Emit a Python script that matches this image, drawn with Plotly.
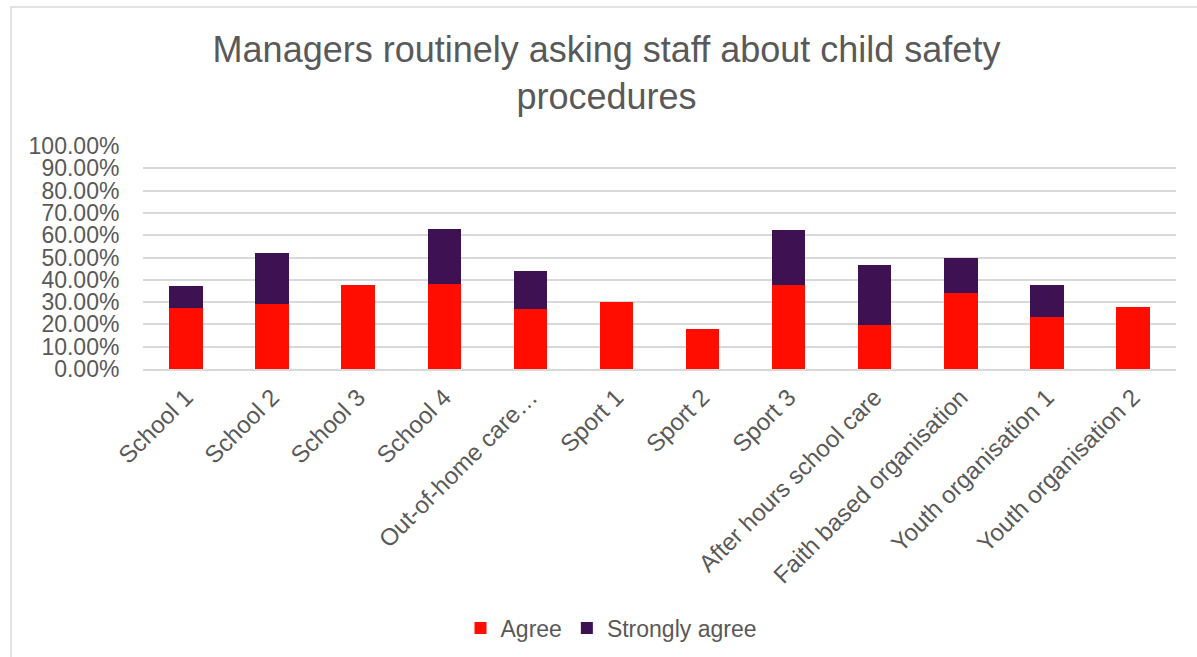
import plotly.graph_objects as go

categories = ["School 1", "School 2", "School 3", "School 4", "Out-of-home care…",
              "Sport 1", "Sport 2", "Sport 3", "After hours school care",
              "Faith based organisation", "Youth organisation 1", "Youth organisation 2"]
agree = [0.273, 0.291, 0.375, 0.381, 0.270, 0.300, 0.181, 0.375, 0.198, 0.340, 0.231, 0.276]
strongly_agree = [0.099, 0.228, 0.0, 0.249, 0.168, 0.0, 0.0, 0.249, 0.268, 0.159, 0.144, 0.0]
y_ticks = [i / 10 for i in range(11)]

TEXT = "#595959"
FONT = "Liberation Sans, Arial, sans-serif"

W, H = 1197, 657
L, R, T, B = 143, 21, 146, 288
pw, ph = W - L - R, H - T - B

def px(x):
    return (x - L) / pw

def py(y):
    return (H - B - y) / ph

fig = go.Figure()
fig.add_trace(go.Bar(x=categories, y=agree, name="Agree", marker=dict(color="#FF0D00", line=dict(width=0))))
fig.add_trace(go.Bar(x=categories, y=strongly_agree, name="Strongly agree",
                     marker=dict(color="#3D1152", line=dict(width=0))))

fig.update_layout(
    width=W, height=H,
    barmode="stack", bargap=0.61,
    margin=dict(l=L, r=R, t=T, b=B, autoexpand=False),
    paper_bgcolor="white", plot_bgcolor="white",
    font=dict(family=FONT, color=TEXT, size=23),
    title=dict(text="Managers routinely asking staff about child safety<br>procedures",
               font=dict(size=36, color=TEXT, family=FONT),
               x=606.5 / W, xanchor="center", xref="container",
               y=1 - 62 / H, yanchor="top", yref="container"),
    legend=dict(orientation="h", traceorder="normal", x=px(611), xanchor="center", y=py(628),
                yanchor="middle", font=dict(size=23, color=TEXT), bgcolor="rgba(0,0,0,0)"),
    xaxis=dict(tickangle=-45, showgrid=False, showline=True, linecolor="#D9D9D9", linewidth=1.5,
               ticks="outside", ticklen=3, tickcolor="rgba(0,0,0,0)",
               tickfont=dict(size=24, color=TEXT), fixedrange=True),
    yaxis=dict(range=[0, 1], tickvals=y_ticks, tickformat=".2%", showgrid=True,
               gridcolor="#D9D9D9", gridwidth=1.5, zeroline=False, showline=False,
               ticks="outside", ticklen=18, tickcolor="rgba(0,0,0,0)",
               tickfont=dict(size=23, color=TEXT), fixedrange=True),
    shapes=[dict(type="rect", xref="paper", yref="paper",
                 x0=px(11), x1=px(1205), y0=py(665), y1=py(7),
                 line=dict(color="#D9D9D9", width=1.5), fillcolor="rgba(0,0,0,0)", layer="below")],
)

fig.write_html("out.html")
